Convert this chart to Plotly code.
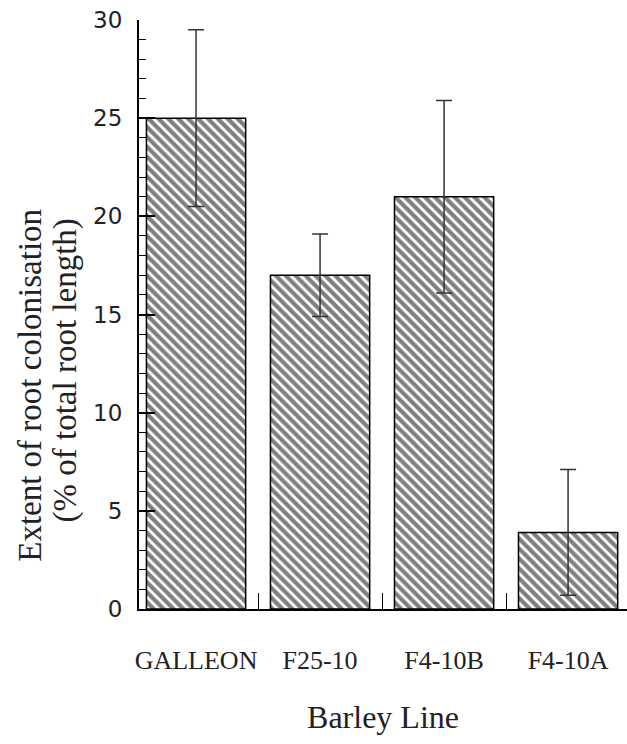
import plotly.graph_objects as go

barley_lines = ["GALLEON", "F25-10", "F4-10B", "F4-10A"]
colonisation = [25.0, 17.0, 21.0, 3.9]
error = [4.5, 2.1, 4.9, 3.2]
y_ticks = [0, 5, 10, 15, 20, 25, 30]
y_title_lines = ["Extent of root colonisation", "(% of total root length)"]

fig = go.Figure()
fig.add_trace(go.Bar(
    x=barley_lines,
    y=colonisation,
    width=0.8,
    marker=dict(
        color="white",
        line=dict(color="black", width=1.5),
        pattern=dict(shape="\\", fgcolor="black", bgcolor="white", size=7, solidity=0.6),
    ),
    error_y=dict(type="data", array=error, visible=True, color="#333333", thickness=1.5, width=8),
    showlegend=False,
))

serif = "Liberation Serif, Times New Roman, Times, serif"
fig.update_layout(
    width=627, height=744,
    margin=dict(l=139, r=0, t=20, b=135, autoexpand=False),
    paper_bgcolor="white", plot_bgcolor="white",
    xaxis=dict(
        range=[-0.46, 3.475],
        automargin=False,
        showline=True, linecolor="black", linewidth=2,
        ticks="inside", tickson="boundaries", ticklen=16, tickwidth=1, tickcolor="black",
        showgrid=False, zeroline=False,
        tickangle=0,
        tickfont=dict(family=serif, size=26, color="#222222"),
        ticklabelstandoff=27,
        title=dict(text="Barley Line", font=dict(family=serif, size=32, color="#222222"), standoff=31),
    ),
    yaxis=dict(
        range=[0, 30],
        automargin=False,
        tickvals=y_ticks,
        showline=True, linecolor="black", linewidth=2,
        ticks="inside", ticklen=16, tickwidth=1.5, tickcolor="black",
        minor=dict(dtick=1, ticks="inside", ticklen=7, tickwidth=1, tickcolor="black", showgrid=False),
        showgrid=False, zeroline=False,
        tickfont=dict(family="DejaVu Sans", size=23, color="#222222"),
        ticklabelstandoff=10,
    ),
    annotations=[
        dict(text=y_title_lines[0], xref="paper", yref="paper",
             x=(30 - 139) / 488, y=0.379, xanchor="center", yanchor="middle",
             textangle=-90, showarrow=False,
             font=dict(family=serif, size=33, color="#222222")),
        dict(text=y_title_lines[1], xref="paper", yref="paper",
             x=(65 - 139) / 488, y=0.405, xanchor="center", yanchor="middle",
             textangle=-90, showarrow=False,
             font=dict(family=serif, size=33, color="#222222")),
    ],
)

fig.write_html("out.html")
